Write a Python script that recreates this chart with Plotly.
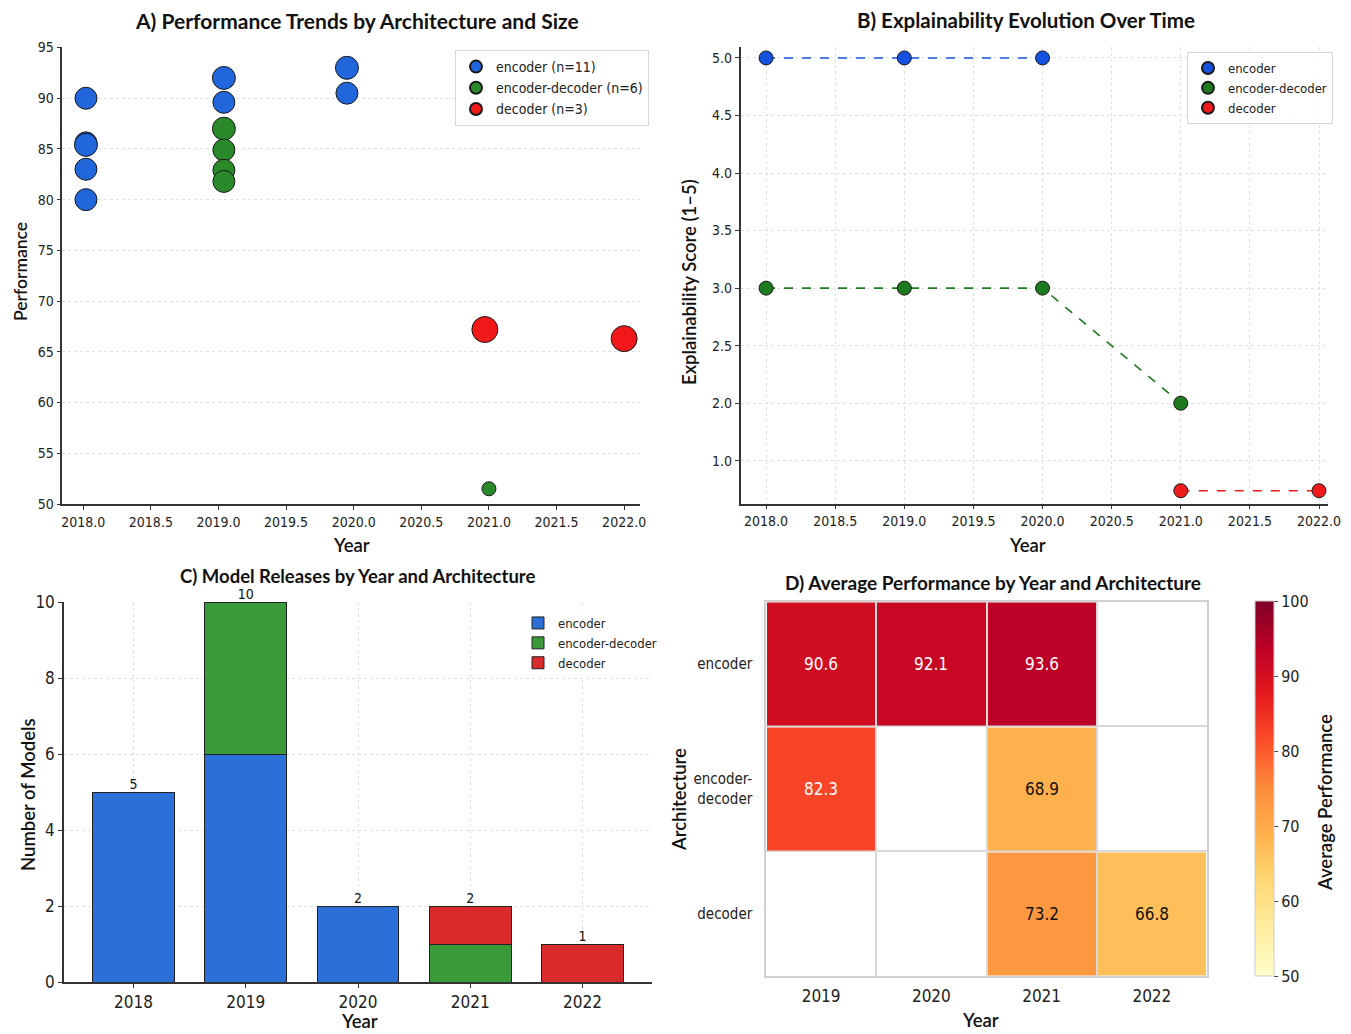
import plotly.graph_objects as go
import plotly.colors as pc

W, H = 1351, 1034
OFF = 8  # page body margin in the browser

# ---------------- Data ----------------
# Panel A: performance by year (with slight jitter as drawn) and bubble size
enc_year = [2018.02, 2018.02, 2018.02, 2018.02, 2018.02, 2019.04, 2019.04, 2019.95, 2019.95]
enc_perf = [90.0, 85.6, 85.4, 83.0, 80.0, 92.0, 89.6, 93.0, 90.5]
enc_bubble = [22, 22, 23, 22, 22, 23, 22, 23, 22]
encdec_year = [2019.04, 2019.04, 2019.04, 2019.04, 2021.0]
encdec_perf = [87.0, 84.9, 82.9, 81.8, 51.5]
encdec_bubble = [23, 22, 22, 22, 14]
dec_year = [2020.97, 2022.0]
dec_perf = [67.2, 66.3]
dec_bubble = [26, 26]
legend_a = ["encoder (n=11)", "encoder-decoder (n=6)", "decoder (n=3)"]

# Panel B: explainability over time
b_enc_years = [2018, 2019, 2020]
b_enc_score = [5.0, 5.0, 5.0]
b_encdec_years = [2018, 2019, 2020, 2021]
b_encdec_score = [3.0, 3.0, 3.0, 2.0]
b_dec_years = [2021, 2022]
b_dec_score = [1.24, 1.24]
b_tickvals = [1.5, 2.0, 2.5, 3.0, 3.5, 4.0, 4.5, 5.0]
b_ticktext = ["1.0", "2.0", "2.5", "3.0", "3.5", "4.0", "4.5", "5.0"]

# Panel C: releases
c_years = ["2018", "2019", "2020", "2021", "2022"]
c_encoder = [5, 6, 2, 0, 0]
c_encdec = [0, 4, 0, 1, 0]
c_decoder = [0, 0, 0, 1, 1]

# Panel D: heatmap
d_years = ["2019", "2020", "2021", "2022"]
d_arch = ["encoder", "encoder-<br>decoder", "decoder"]
d_z = [
    [90.6, 92.1, 93.6, None],
    [82.3, None, 68.9, None],
    [None, None, 73.2, 66.8],
]

# ---------------- Styles ----------------
BLUE_A, GREEN_A, RED_A = "#2266dc", "#2a8a2a", "#f01818"
BLUE_B, GREEN_B, RED_B = "#1652e0", "#1e7a1e", "#ee1c1c"
BLUE_C, GREEN_C, RED_C = "#2c6fd6", "#3a9a3a", "#d92b2b"
NARROW = "Liberation Sans Narrow, DejaVu Sans Condensed, Roboto Condensed, Roboto, sans-serif"
TICKF = dict(family=NARROW, size=14, color="#222")
TITLEF = dict(family="Lato, Open Sans, sans-serif", size=21, color="#111")
AXTF = dict(family="Lato, Open Sans, sans-serif", size=18.5, color="#111", weight=600)
LEGF = dict(family=NARROW, size=13, color="#222")
GRID = "#e0e0e0"


def px_x(p):
    return (p - OFF) / W


def px_y(p):
    return 1 - (p - OFF) / H


fig = go.Figure()

# ---------- Panel A ----------
for yrs, vals, sz, col, name in [
    (enc_year, enc_perf, enc_bubble, BLUE_A, legend_a[0]),
    (encdec_year, encdec_perf, encdec_bubble, GREEN_A, legend_a[1]),
    (dec_year, dec_perf, dec_bubble, RED_A, legend_a[2]),
]:
    fig.add_trace(go.Scatter(
        x=yrs, y=vals, mode="markers", name=name, xaxis="x", yaxis="y",
        legend="legend",
        marker=dict(size=sz, color=col, opacity=1, line=dict(color="#1a1a1a", width=1)),
    ))

# ---------- Panel B ----------
for yrs, vals, col, name in [
    (b_enc_years, b_enc_score, BLUE_B, "encoder"),
    (b_encdec_years, b_encdec_score, GREEN_B, "encoder-decoder"),
    (b_dec_years, b_dec_score, RED_B, "decoder"),
]:
    fig.add_trace(go.Scatter(
        x=yrs, y=vals, mode="lines", xaxis="x2", yaxis="y2", showlegend=False,
        line=dict(color=col, width=1.6, dash="dash"), hoverinfo="skip",
    ))
    fig.add_trace(go.Scatter(
        x=yrs, y=vals, mode="markers", name=name, xaxis="x2", yaxis="y2",
        legend="legend2",
        marker=dict(size=14, color=col, opacity=1, line=dict(color="#1a1a1a", width=1)),
    ))

# ---------- Panel C ----------
for vals, col, name in [
    (c_encoder, BLUE_C, "encoder"),
    (c_encdec, GREEN_C, "encoder-decoder"),
    (c_decoder, RED_C, "decoder"),
]:
    fig.add_trace(go.Bar(
        x=c_years, y=vals, name=name, xaxis="x3", yaxis="y3", legend="legend3",
        marker=dict(color=col, line=dict(color="#222", width=1)), width=0.73,
    ))
totals = [a + b + c for a, b, c in zip(c_encoder, c_encdec, c_decoder)]
fig.add_trace(go.Scatter(
    x=c_years, y=totals, mode="text", text=[str(t) for t in totals],
    textposition="top center", textfont=dict(family=NARROW, size=14, color="#111"),
    xaxis="x3", yaxis="y3", showlegend=False, hoverinfo="skip", cliponaxis=False,
))

# ---------- Panel D ----------
ylorrd = pc.sequential.YlOrRd
fig.add_trace(go.Heatmap(
    z=d_z, x=list(range(len(d_years))), y=list(range(len(d_arch))),
    xaxis="x4", yaxis="y4", colorscale=ylorrd, zmin=50, zmax=100,
    xgap=2, ygap=2, hoverongaps=False,
    colorbar=dict(
        x=px_x(1255), xanchor="left", thickness=19, xpad=0, ypad=0,
        y=px_y((601 + 976) / 2), yanchor="middle", len=375 / H, lenmode="fraction",
        outlinewidth=1, outlinecolor="#cccccc",
        tickvals=[50, 60, 70, 80, 90, 100], ticks="outside", ticklen=4,
        tickfont=dict(TICKF, size=16),
    ),
))
for ri, row in enumerate(d_z):
    for ci, v in enumerate(row):
        if v is None:
            continue
        fig.add_annotation(
            x=ci, y=ri, xref="x4", yref="y4", text=f"{v:.1f}", showarrow=False,
            font=dict(family=NARROW, size=17,
                      color="white" if v >= 80 else "#111"),
        )

# ---------- Axes ----------
axis_common = dict(showline=True, linecolor="#333", linewidth=1.5, ticks="outside",
                   ticklen=4, tickcolor="#333", tickfont=TICKF, zeroline=False,
                   automargin=False)

fig.update_layout(
    width=W, height=H, margin=dict(l=0, r=0, t=0, b=0, autoexpand=False),
    paper_bgcolor="white", plot_bgcolor="white", barmode="stack",
    xaxis=dict(domain=[px_x(62.3), px_x(639.7)], range=[2017.845, 2022.115],
               tickvals=[2018 + 0.5 * i for i in range(9)], tickformat=".1f",
               showgrid=False, anchor="y", **axis_common),
    yaxis=dict(domain=[px_y(504), px_y(47)], range=[50.0, 95.05],
               tickvals=list(range(50, 100, 5)), showgrid=True, gridcolor=GRID,
               griddash="dot", gridwidth=1, anchor="x", **axis_common),
    xaxis2=dict(domain=[px_x(740.5), px_x(1328)], range=[2017.815, 2022.065],
                tickvals=[2018 + 0.5 * i for i in range(9)], tickformat=".1f",
                showgrid=True, gridcolor=GRID, griddash="dot", anchor="y2", **axis_common),
    yaxis2=dict(domain=[px_y(503.6), px_y(47)], range=[1.128, 5.095],
                tickvals=b_tickvals, ticktext=b_ticktext,
                showgrid=True, gridcolor=GRID, griddash="dot", anchor="x2", **axis_common),
    xaxis3=dict(domain=[px_x(64), px_x(652)], range=[-0.62, 4.62], type="category",
                showgrid=True, gridcolor=GRID, griddash="dot", anchor="y3",
                **{**axis_common, "tickfont": dict(TICKF, size=17)}),
    yaxis3=dict(domain=[px_y(982), px_y(602)], range=[0, 10],
                tickvals=[0, 2, 4, 6, 8, 10],
                showgrid=True, gridcolor=GRID, griddash="dot", anchor="x3",
                **{**axis_common, "tickfont": dict(TICKF, size=17)}),
    xaxis4=dict(domain=[px_x(766), px_x(1207)], range=[-0.5, 3.5],
                tickvals=list(range(len(d_years))), ticktext=d_years,
                showgrid=False, zeroline=False, ticks="", tickfont=dict(TICKF, size=17),
                showline=True, mirror=True, linecolor="#d0d0d0", linewidth=1.5,
                automargin=False, ticklabelstandoff=4,
                minor=dict(tickvals=[0.5, 1.5, 2.5], showgrid=True,
                           gridcolor="#d9d9d9", gridwidth=2, ticks=""),
                anchor="y4"),
    yaxis4=dict(domain=[px_y(976), px_y(601.5)], range=[2.5, -0.5],
                tickvals=list(range(len(d_arch))), ticktext=d_arch,
                showgrid=False, zeroline=False, ticks="", tickfont=dict(TICKF, size=15),
                showline=True, mirror=True, linecolor="#d0d0d0", linewidth=1.5,
                automargin=False, ticklabelstandoff=9,
                minor=dict(tickvals=[0.5, 1.5], showgrid=True,
                           gridcolor="#d9d9d9", gridwidth=2, ticks=""),
                anchor="x4"),
    legend=dict(x=px_x(455), y=px_y(50), xanchor="left", yanchor="top",
                bordercolor="#d8d8d8", borderwidth=1, bgcolor="rgba(255,255,255,0.9)",
                font=dict(LEGF, size=14), itemsizing="constant", tracegroupgap=2),
    legend2=dict(x=px_x(1187), y=px_y(52), xanchor="left", yanchor="top",
                 bordercolor="#d8d8d8", borderwidth=1, bgcolor="rgba(255,255,255,0.9)",
                 font=LEGF, itemsizing="constant"),
    legend3=dict(x=px_x(518), y=px_y(608), xanchor="left", yanchor="top",
                 borderwidth=0, bgcolor="rgba(255,255,255,0.8)", traceorder="normal",
                 font=LEGF),
)

# ---------- Titles & axis titles (annotations) ----------
def ann(text, x, y, font, angle=0, bold=True):
    fig.add_annotation(
        text=f"<b>{text}</b>" if bold else text, x=px_x(x), y=px_y(y),
        xref="paper", yref="paper", showarrow=False, textangle=angle,
        xanchor="center", yanchor="middle", font=font,
    )

ann("A) Performance Trends by Architecture and Size", 357, 20, TITLEF)
ann("B) Explainability Evolution Over Time", 1026, 20, dict(TITLEF, size=20.5))
ann("C) Model Releases by Year and Architecture", 358, 576, dict(TITLEF, size=18.5))
ann("D) Average Performance by Year and Architecture", 993, 582, dict(TITLEF, size=19))

ann("Year", 351, 545, AXTF, bold=False)
ann("Performance", 21, 272, dict(AXTF, size=17.5), angle=-90, bold=False)
ann("Year", 1027, 545, AXTF, bold=False)
ann("Explainability Score (1–5)", 689, 282, AXTF, angle=-90, bold=False)
ann("Year", 360, 1021, AXTF, bold=False)
ann("Number of Models", 28, 795, AXTF, angle=-90, bold=False)
ann("Year", 980, 1020, AXTF, bold=False)
ann("Architecture", 679, 800, AXTF, angle=-90, bold=False)
ann("Average Performance", 1325, 803, AXTF, angle=-90, bold=False)

fig.write_html("out.html")
